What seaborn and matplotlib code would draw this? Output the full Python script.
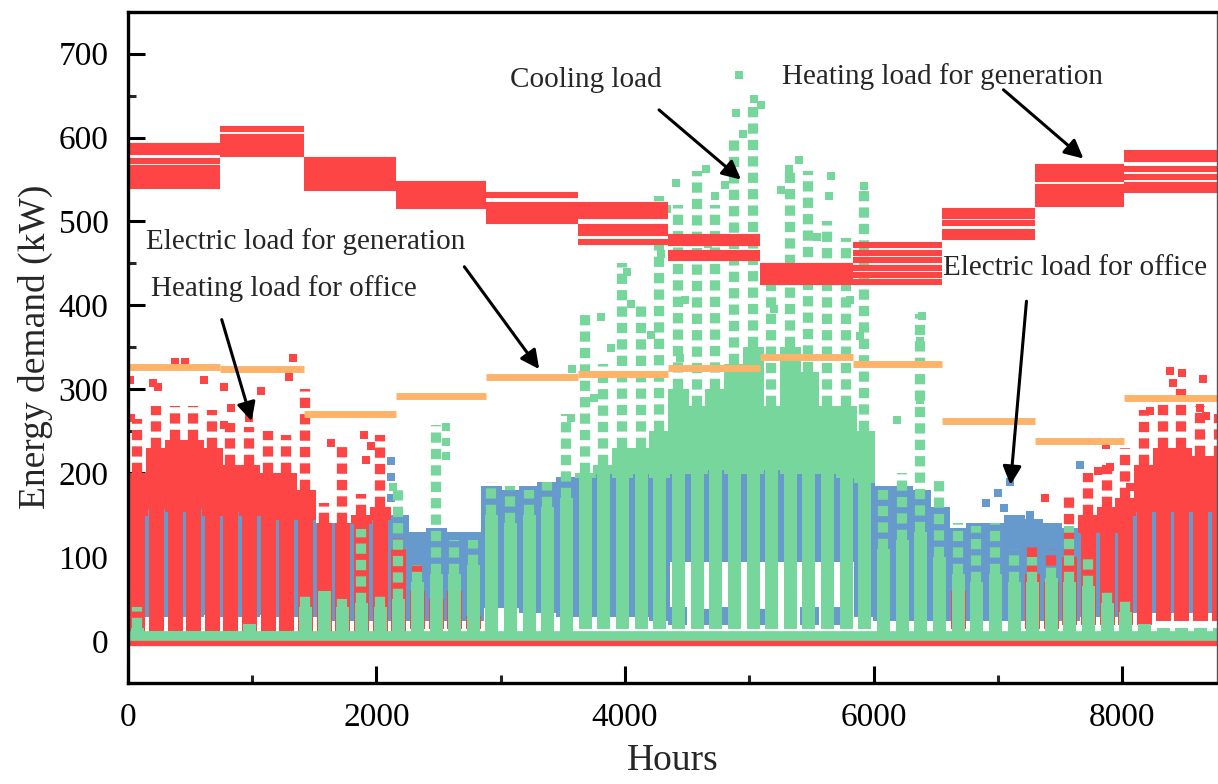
import numpy as np
import matplotlib
matplotlib.use("Agg")
import matplotlib.pyplot as plt
from matplotlib.ticker import MultipleLocator, AutoMinorLocator
import seaborn as sns

nan = np.nan

# ---------------- data ----------------
# monthly blocks of the generation loads
month_edges = [0, 744, 1416, 2160, 2880, 3624, 4344, 5088, 5832, 6552, 7296, 8016, 8760]
elec_gen = [326, 324, 271, 292, 315, 318, 325, 339, 330, 262, 238, 290]
heat_gen_levels = [
    [590, 583, 572, 564, 557, 549, 542],
    [610, 601, 594, 587, 580],
    [573, 566, 559, 552, 545, 540],
    [545, 538, 531, 524, 518],
    [532, 520, 513, 506, 500],
    [520, 513, 506, 494, 486, 476],
    [481, 474, 463, 456],
    [447, 440, 433, 428],
    [472, 463, 454, 445, 436, 428],
    [513, 506, 498, 487, 482],
    [565, 558, 551, 541, 534, 528, 521],
    [582, 575, 563, 553, 543, 538],
]

# office loads, summarised in 150 h columns (dense band + sparse peak)
bin_hours = np.arange(75, 8800, 150)

blue_low = [30, 30, 30, 30, 32, 30, 30, 32, 30, 30,
            30, 25, 25, 25, 25, 25, 25, 25, 25, 40,
            40, 35, 35, 30, 30, 30, 30, 30, 25, 95,
            95, 95, 95, 95, 95, 95, 95, 95, 95, 30,
            25, 25, 25, 25, 25, 25, 25, 25, 25, 25,
            25, 30, 30, 35, 35, 35, 35, 35, 35]
blue_high = [150, 158, 155, 158, 150, 155, 150, 150, 145, 145,
             140, 140, 140, 145, 150, 130, 135, 130, 130, 185,
             180, 185, 190, 195, 195, 200, 195, 200, 195, 200,
             200, 205, 200, 200, 205, 200, 200, 200, 195, 190,
             185, 185, 180, 160, 135, 140, 140, 150, 145, 140,
             135, 130, 130, 150, 155, 155, 155, 155, 155]
# summer weekend blocks of the electric load
blue_wk_hours = [4420, 4620, 4800, 5100, 5480, 5740]
blue_wk_low = [20, 20, 20, 20, 20, 20]
blue_wk_high = [40, 38, 40, 38, 40, 40]
blue_pts_h = [2120, 2120, 2120, 6900, 7000, 7094, 7050, 7255, 7255, 7660]
blue_pts_v = [215, 195, 170, 165, 176, 189, 158, 150, 137, 210]

red_low = [0, 0, 0, 0, 0, 0, 0, 0, 0, 0,
           5, 5, 5, 5, 10, 15, 15, 15, 15, nan,
           nan, nan, nan, nan, nan, nan, nan, nan, nan, nan,
           nan, nan, nan, nan, nan, nan, nan, nan, nan, nan,
           nan, nan, nan, nan, 15, nan, nan, nan, 15, 15,
           20, 20, 20, 20, 20, 25, 25, 25, 25]
red_core = [200, 230, 240, 240, 230, 210, 210, 200, 200, 180,
            140, 140, 150, 160, 110, 60, 50, 60, 30, nan,
            nan, nan, nan, nan, nan, nan, nan, nan, nan, nan,
            nan, nan, nan, nan, nan, nan, nan, nan, nan, nan,
            nan, nan, nan, nan, 60, nan, nan, nan, 80, 70,
            100, 150, 160, 170, 210, 230, 230, 220, 220]
red_top = [265, 280, 280, 280, 275, 260, 255, 250, 245, 300,
           165, 236, 175, 245, 130, 90, 60, 75, 40, nan,
           nan, nan, nan, nan, nan, nan, nan, nan, nan, nan,
           nan, nan, nan, nan, nan, nan, nan, nan, nan, nan,
           nan, nan, nan, nan, 80, nan, nan, nan, 115, 110,
           175, 200, 210, 230, 275, 290, 300, 280, 270]
red_pts_h = [1327, 1300, 375, 456, 616, 201, 1072, 777, 13, 241, 978, 1635, 1903,
             1956, 1916, 777, 830, 27, 8386, 8482, 8648, 8407, 8621, 8675, 8219,
             7375, 7871, 8059, 7804, 7898, 6719, 7375]
red_pts_v = [337, 315, 332, 332, 311, 307, 298, 303, 311, 303, 266, 236, 245,
             232, 216, 257, 278, 266, 322, 319, 312, 307, 278, 268, 274,
             170, 234, 183, 203, 207, 104, 135]

green_low = [10, 5, 5, 5, 5, 5, 5, 5, 5, 5,
             5, 5, 5, 5, 5, 5, 5, 5, 5, 10,
             10, 10, 10, 10, 15, 15, 15, 15, 15, 15,
             15, 15, 15, 15, 15, 15, 15, 15, 15, 15,
             5, 5, 5, 5, 5, 5, 5, 5, 5, 5,
             5, 5, 5, 5, 5, 5, 5, 5, 5]
green_core = [15, 12, 12, 12, 12, 12, 20, 12, 12, 40,
              60, 40, 45, 40, 50, 70, 80, 80, 90, 150,
              140, 150, 160, 170, 200, 210, 230, 230, 250, 300,
              280, 300, 330, 350, 280, 350, 320, 280, 280, 250,
              110, 120, 130, 100, 80, 70, 80, 70, 70, 75,
              70, 65, 45, 35, 20, 15, 15, 15, 15]
green_top = [40, nan, nan, nan, nan, nan, nan, nan, nan, 60,
             nan, 50, 133, 60, 183, 90, 257, 120, 120, 190,
             185, 180, 190, 270, 390, 330, 450, 400, 530, 520,
             560, 520, 600, 640, 430, 560, 560, 500, 480, 540,
             180, 200, 390, 195, 140, 137, 140, 110, 100, 90,
             137, 100, 60, 50, nan, nan, nan, nan, nan]
green_pts_h = [4920, 5040, 5093, 4893, 4947, 4653, 4413, 5400, 5320, 5653, 5920,
               5253, 5640, 4800, 4720, 6387, 6373, 4440, 4480, 4667, 5547, 5813,
               5893, 6187, 6373, 5493, 5200, 2558, 2558, 2558, 3804, 3884, 4018,
               4045, 3576, 3563, 3750, 4206, 4286, 4340, 1849, 2131]
green_pts_v = [675, 646, 639, 629, 604, 562, 546, 573, 563, 554, 542,
               537, 530, 544, 530, 387, 358, 337, 406, 473, 482, 406,
               363, 263, 287, 277, 396, 255, 237, 220, 386, 349, 440,
               402, 324, 266, 290, 365, 461, 515, 133, 183]

red_base, green_base = -1, 6

c_red = "#FD4545"
c_blue = "#6699CC"
c_green = "#77D69B"
c_orange = "#FDB46A"

# ---------------- plotting ----------------
sns.set_style("ticks")
plt.rcParams["font.family"] = ["Liberation Serif", "DejaVu Serif"]

fig, ax = plt.subplots(figsize=(12.18, 7.84), dpi=100)
fig.subplots_adjust(left=0.105, right=0.999, bottom=0.129, top=0.985)
ax.set_xlim(0, 8760)
ax.set_ylim(-50, 750)

bb = ax.get_position()
pt_per_h = bb.width * fig.get_figwidth() * 72 / 8760
col = 150 * pt_per_h
kw = dict(capstyle="butt")
solid = dict(capstyle="butt", antialiased=False)
blue_top = np.array(blue_high, float)


def seg(lo, hi):
    lo, hi = np.asarray(lo, float), np.asarray(hi, float)
    ok = hi > lo
    return np.where(ok, lo, nan), np.where(ok, hi, nan)


def cloud(low, core, top, color, under):
    # part behind the electric band: narrower, so blue shows through
    lo, hi = seg(low, np.minimum(core, blue_top))
    ax.vlines(bin_hours, lo, hi, colors=color, lw=col * under, **solid)
    # above the electric band: solid
    lo, hi = seg(np.maximum(low, blue_top), core)
    ax.vlines(bin_hours, lo, hi, colors=color, lw=col * 1.02, **solid)
    # sparse peaks: streaks of squares
    lo, hi = seg(core, top)
    ax.vlines(bin_hours, lo, hi, colors=color, lw=col * 0.55,
              linestyles=(0, (1.0, 0.6)), **kw)


# electric load for office
ax.vlines(bin_hours, blue_low, blue_high, colors=c_blue, lw=col * 1.02, **solid)
ax.vlines(blue_wk_hours, blue_wk_low, blue_wk_high, colors=c_blue, lw=col, **solid)
sns.scatterplot(x=blue_pts_h, y=blue_pts_v, color=c_blue, marker="s", s=40,
                linewidth=0, ax=ax)

# heating load for office
ax.hlines(red_base, 0, 8760, colors=c_red, lw=6, **kw)
cloud(red_low, red_core, red_top, c_red, 0.7)
sns.scatterplot(x=red_pts_h, y=red_pts_v, color=c_red, marker="s", s=40,
                linewidth=0, ax=ax)

# cooling load
cloud(green_low, green_core, green_top, c_green, 0.6)
ax.hlines(green_base, 0, 8760, colors=c_green, lw=7, **kw)
sns.scatterplot(x=green_pts_h, y=green_pts_v, color=c_green, marker="s", s=40,
                linewidth=0, ax=ax)

# heating load for generation
for m, levels in enumerate(heat_gen_levels):
    ax.hlines(levels, month_edges[m], month_edges[m + 1], colors=c_red, lw=4.4, **kw)

# electric load for generation
ax.hlines(elec_gen, month_edges[:-1], month_edges[1:], colors=c_orange, lw=5, **kw)

# annotations
fs = 21
arrow = dict(arrowstyle="-|>", color="black", lw=2.2, mutation_scale=28,
             shrinkA=0, shrinkB=0)
ax.text(3687, 669, "Cooling load", fontsize=fs, ha="center", va="center")
ax.annotate("", xy=(4932, 550), xytext=(4273, 633), arrowprops=arrow)
ax.text(6554, 673, "Heating load for generation", fontsize=fs, ha="center", va="center")
ax.annotate("", xy=(7687, 575), xytext=(7044, 657), arrowprops=arrow)
ax.text(1430, 476, "Electric load for generation", fontsize=fs, ha="center", va="center")
ax.annotate("", xy=(3309, 324), xytext=(2707, 446), arrowprops=arrow)
ax.text(1253, 420, "Heating load for office", fontsize=fs, ha="center", va="center")
ax.annotate("", xy=(996, 262), xytext=(755, 383), arrowprops=arrow)
ax.text(7623, 444, "Electric load for office", fontsize=fs, ha="center", va="center")
ax.annotate("", xy=(7100, 186), xytext=(7229, 405), arrowprops=arrow)

# axes styling
ax.xaxis.set_major_locator(MultipleLocator(2000))
ax.xaxis.set_minor_locator(AutoMinorLocator(2))
ax.set_yticks(range(0, 701, 100))
ax.yaxis.set_minor_locator(AutoMinorLocator(2))
ax.tick_params(which="major", direction="in", length=12, width=2.2,
               labelsize=24, pad=14, colors="black")
ax.tick_params(which="minor", direction="in", length=6, width=2.2)
for side in ["left", "bottom", "top"]:
    ax.spines[side].set_linewidth(2.4)
    ax.spines[side].set_color("black")
ax.spines["right"].set_linewidth(1.0)
ax.spines["right"].set_color("#555555")
ax.set_xlabel("Hours", fontsize=27, labelpad=8)
ax.set_ylabel("Energy demand (kW)", fontsize=27, labelpad=4)

fig.savefig("out.png", dpi=100)
